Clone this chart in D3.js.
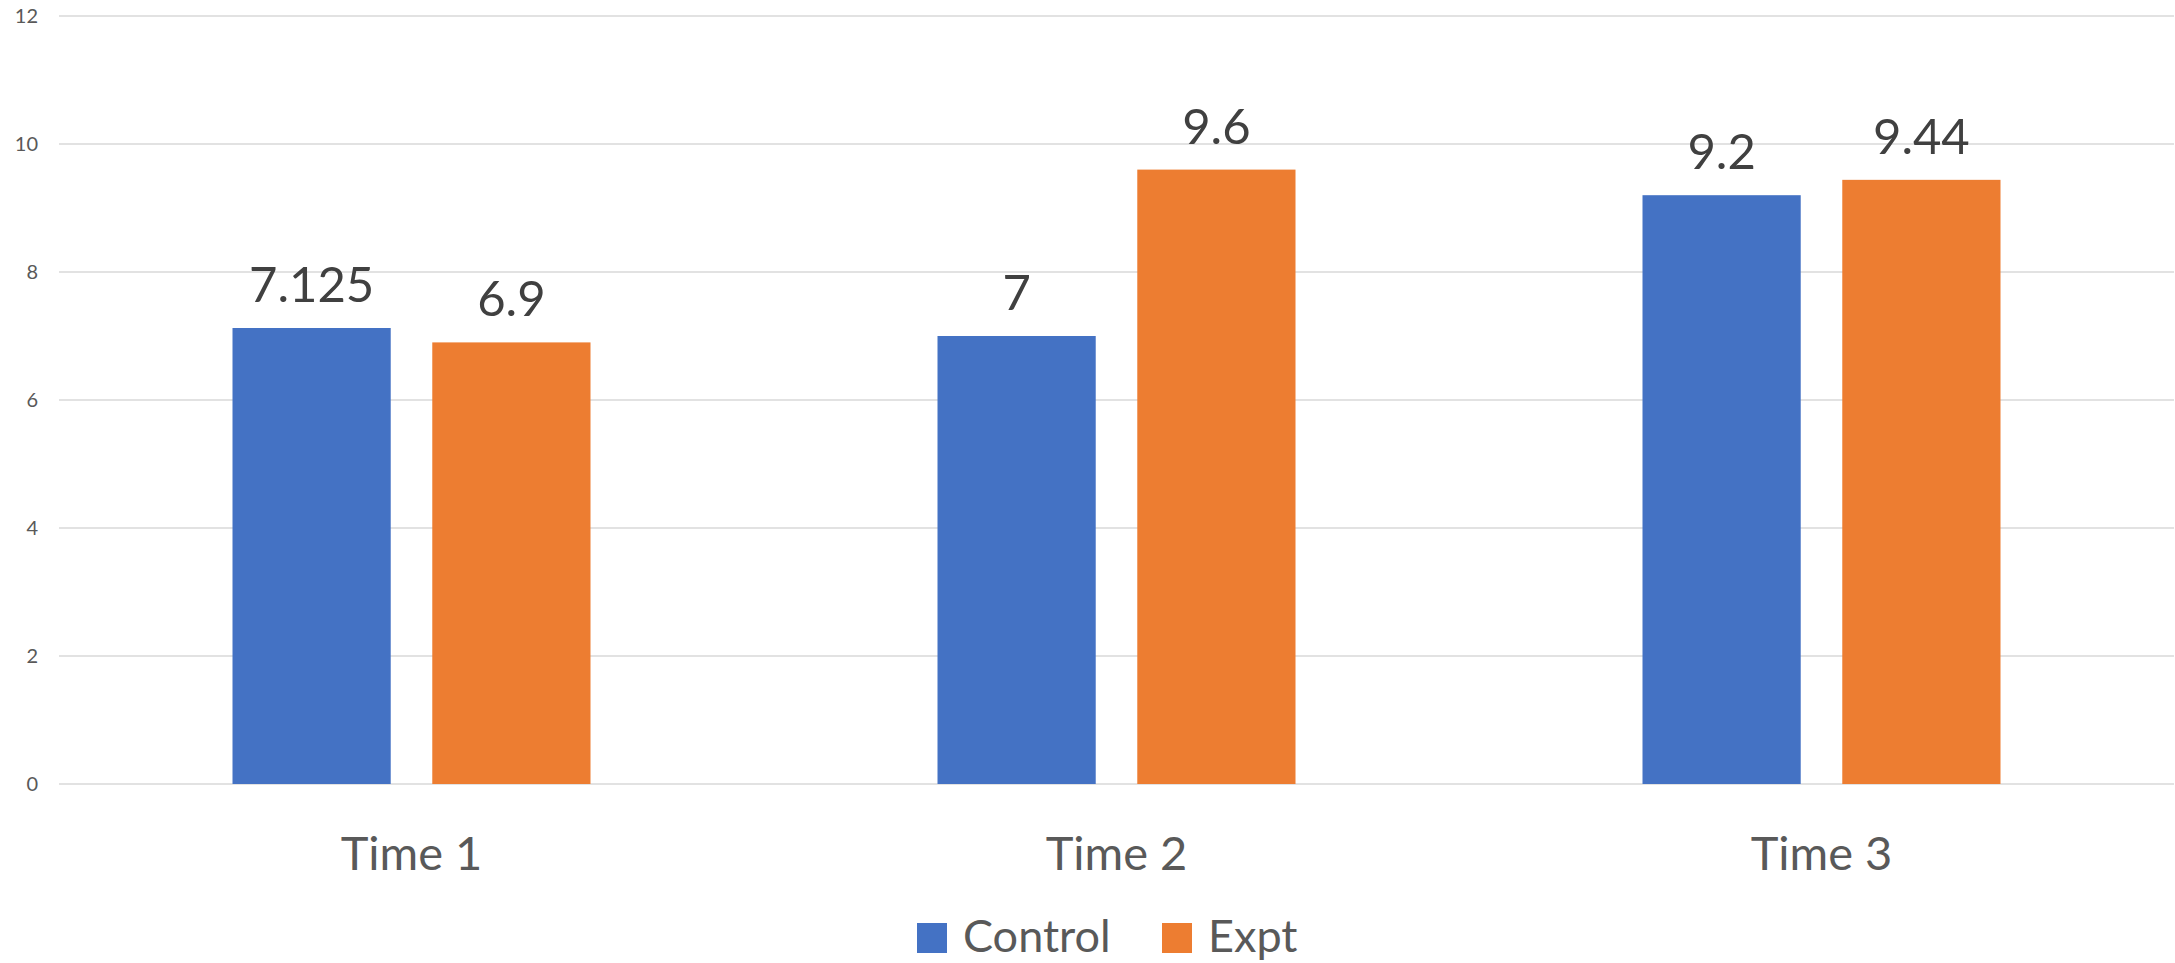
<!DOCTYPE html>
<html>
<head>
<meta charset="utf-8">
<script src="https://cdn.jsdelivr.net/npm/d3@7"></script>
<style>
  html, body { margin: 0; padding: 0; background: #fff; }
  svg { display: block; }
  text { font-family: Lato, "Open Sans", sans-serif; }
</style>
</head>
<body>
<script>
const categories = ["Time 1", "Time 2", "Time 3"];
const seriesNames = ["Control", "Expt"];
const controlValues = [7.125, 7, 9.2];
const exptValues = [6.9, 9.6, 9.44];
const yTicks = [0, 2, 4, 6, 8, 10, 12];
const colors = ["#4472C4", "#ED7D31"];

const W = 2175, H = 963;
const plot = { left: 59, right: 2174, top: 16, bottom: 784 };

const svg = d3.select("body").append("svg").attr("width", W).attr("height", H);

const y = d3.scaleLinear().domain([0, 12]).range([plot.bottom, plot.top]);
const x0 = d3.scaleBand().domain(categories).range([plot.left, plot.right]).padding(0);
const groupW = 358;
const x1 = d3.scaleBand().domain(seriesNames)
  .range([(x0.bandwidth() - groupW) / 2, (x0.bandwidth() + groupW) / 2])
  .paddingInner(0.208).paddingOuter(0);

// gridlines
svg.append("g").selectAll("line").data(yTicks).join("line")
  .attr("x1", plot.left).attr("x2", plot.right)
  .attr("y1", d => y(d)).attr("y2", d => y(d))
  .attr("stroke", "#D9D9D9").attr("stroke-width", 1.6);

// y tick labels
svg.append("g").selectAll("text").data(yTicks).join("text")
  .attr("x", 38).attr("y", d => y(d)).attr("dy", "0.36em")
  .attr("text-anchor", "end").attr("font-size", 20).attr("fill", "#595959")
  .text(d => d);

const rows = categories.map((c, i) => ({
  cat: c,
  vals: [{ s: seriesNames[0], v: controlValues[i] }, { s: seriesNames[1], v: exptValues[i] }]
}));

const groups = svg.append("g").selectAll("g").data(rows).join("g")
  .attr("transform", d => `translate(${x0(d.cat)},0)`);

groups.selectAll("rect").data(d => d.vals).join("rect")
  .attr("x", d => x1(d.s)).attr("width", x1.bandwidth())
  .attr("y", d => y(d.v)).attr("height", d => y(0) - y(d.v))
  .attr("fill", (d, i) => colors[i]);

groups.selectAll("text.val").data(d => d.vals).join("text")
  .attr("class", "val")
  .attr("x", d => x1(d.s) + x1.bandwidth() / 2)
  .attr("y", d => y(d.v) - 26)
  .attr("text-anchor", "middle").attr("font-size", 49).attr("fill", "#404040")
  .text(d => String(d.v));

// category labels
svg.append("g").selectAll("text").data(categories).join("text")
  .attr("x", d => x0(d) + x0.bandwidth() / 2).attr("y", 870)
  .attr("text-anchor", "middle").attr("font-size", 47).attr("fill", "#595959")
  .text(d => d);

// legend
const legendItems = [
  { name: seriesNames[0], color: colors[0], sx: 917, tx: 963 },
  { name: seriesNames[1], color: colors[1], sx: 1162, tx: 1208 }
];
const lg = svg.append("g");
lg.selectAll("rect").data(legendItems).join("rect")
  .attr("x", d => d.sx).attr("y", 923).attr("width", 30).attr("height", 30)
  .attr("fill", d => d.color);
lg.selectAll("text").data(legendItems).join("text")
  .attr("x", d => d.tx).attr("y", 952)
  .attr("font-size", 45).attr("fill", "#595959")
  .text(d => d.name);
</script>
</body>
</html>
